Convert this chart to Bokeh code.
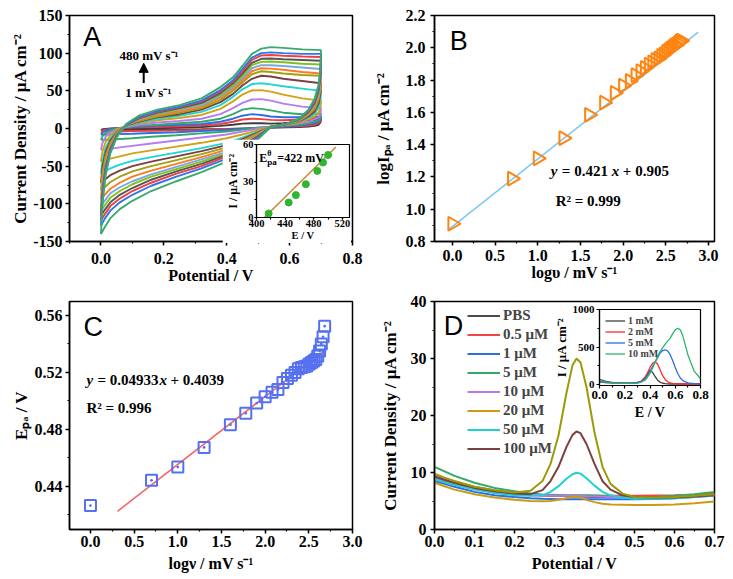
from bokeh.plotting import figure
from bokeh.models import (GridBox, Range1d, SingleIntervalTicker, FixedTicker, PrintfTickFormatter,
                          Label, Arrow, NormalHead, Legend, LegendItem)
from bokeh.embed import file_html
from bokeh.resources import INLINE

SERIF = "Liberation Serif"
SANS = "Liberation Sans"

# ---------------- Panel A : cyclic voltammograms ----------------
cv_E_fwd = [0.0, 0.005, 0.015, 0.03, 0.05, 0.08, 0.12, 0.18, 0.25, 0.32, 0.38, 0.42, 0.45, 0.48, 0.51, 0.54, 0.58, 0.64, 0.7]
cv_E_rev = [0.7, 0.698, 0.692, 0.68, 0.66, 0.63, 0.59, 0.54, 0.5, 0.45, 0.4, 0.32, 0.24, 0.16, 0.1, 0.06, 0.03, 0.012, 0.0]
cv_fwd = [
    [-2, -1, -0.5, 0, 0.3, 0.5, 0.7, 1, 1.5, 2, 3.5, 5, 6.5, 7, 7, 6.5, 7, 9, 12],
    [-4, -2.5, -1.5, -0.5, 0.5, 1, 1.5, 2, 3, 4, 6, 9, 12, 13, 12.5, 11.5, 11, 12, 14],
    [-8, -5, -3, -1, 0.5, 1.5, 2.5, 3.5, 5, 6, 9, 13, 17, 19, 18, 16, 15, 15, 16],
    [-15, -10, -6, -2.5, 0, 2, 3.5, 5, 7, 9, 13, 19, 25, 27, 26, 24, 21, 19, 20],
    [-28, -19, -11, -5, -1, 2, 5, 8, 10, 13, 19, 27, 34, 38.5, 39, 37, 33, 29, 27],
    [-44, -30, -18, -9, -2, 3, 7, 11, 14, 18, 26, 36, 45, 50.5, 51, 49, 45, 40, 37],
    [-60, -42, -26, -13, -4, 3, 8, 13, 17, 22, 31, 42, 52, 59, 60, 58.5, 56, 53, 50],
    [-72, -50, -31, -16, -5, 3.5, 9, 15, 19, 25, 35, 46, 57, 66, 70, 69, 66, 63, 60],
    [-82, -58, -36, -19, -6, 4, 10, 16, 21, 27, 38, 50, 61, 72, 76, 75, 73, 71, 70],
    [-94, -67, -41, -22, -7, 4, 11, 18, 23, 29, 41, 53, 64, 76, 80, 79.5, 78, 75, 73],
    [-103, -74, -45, -24, -8, 4, 12, 19, 25, 31, 43, 55, 67, 80, 84, 84, 83, 81, 79],
    [-109, -78, -48, -25, -9, 4, 13, 20, 26, 33, 45, 57, 70, 84, 88.5, 89, 88, 86, 85],
    [-116, -83, -51, -27, -9, 4.5, 13.5, 21, 27, 34, 47, 60, 73, 87, 92.5, 93, 92, 91, 90],
    [-122, -87, -54, -28, -10, 5, 14, 22, 28, 36, 49, 62, 76, 91, 97, 97.5, 96.5, 95.5, 95],
    [-129, -92, -57, -30, -11, 5, 15, 23, 29, 37, 51, 64, 79, 94, 100, 101, 100, 99, 99],
    [-140, -100, -62, -33, -12, 6, 17, 25, 31, 40, 55, 68, 83, 99, 106, 108, 107, 105, 104],
]
cv_rev = [
    [12, 8, 5, 3.5, 2.5, 2, 1.5, 1, 0.5, 0, -0.5, -1, -1.2, -1.5, -1.7, -1.8, -2, -2, -2],
    [14, 10, 7, 5, 4, 3, 2.5, 1.5, 0.5, -0.5, -1, -2, -2.5, -3, -3.5, -4, -4, -4, -4],
    [16, 12, 9, 7, 5.5, 4, 3, 2, 1, -0.5, -2, -3.5, -5, -6, -7, -7.5, -8, -8, -8],
    [20, 15, 11, 9, 7, 5, 4, 2.5, 1, -1.5, -4, -6.5, -9, -11, -13, -14, -15, -15, -15],
    [27, 20, 15, 12, 9, 7, 4.5, 2.5, 0, -4, -8, -12, -16, -20, -23, -25, -27, -28, -28],
    [37, 28, 21, 16, 12, 8, 5, 2.5, -2, -8, -13, -19, -24, -29, -33, -37, -40, -42, -44],
    [50, 38, 28, 20, 14, 9, 5.5, 2.5, -4, -12, -19, -26, -32, -38, -43, -48, -53, -57, -60],
    [60, 46, 33, 23, 16, 9.5, 5.5, 2.5, -5, -14, -22, -30, -37, -44, -50, -56, -62, -68, -72],
    [70, 53, 38, 26, 18, 10, 6, 2.5, -6, -16, -25, -34, -42, -50, -57, -64, -71, -78, -82],
    [73, 56, 41, 28, 19, 10.5, 6, 2.5, -7, -18, -28, -38, -47, -56, -64, -72, -80, -88, -94],
    [79, 61, 44, 30, 20, 11, 6, 2.5, -8, -20, -31, -41, -51, -61, -70, -78, -86, -96, -103],
    [85, 65, 47, 32, 21, 11, 6, 2, -9, -21, -33, -44, -54, -64, -74, -83, -92, -102, -109],
    [90, 69, 50, 34, 22, 12, 6, 2, -10, -23, -35, -47, -57, -68, -79, -88, -98, -108, -116],
    [95, 73, 53, 36, 23, 12, 6, 2, -11, -25, -37, -50, -60, -72, -83, -93, -103, -114, -122],
    [99, 76, 55, 38, 24, 12.5, 6, 2, -12, -27, -40, -53, -64, -76, -88, -98, -109, -120, -129],
    [104, 80, 58, 40, 25, 13, 6, 2, -14, -30, -44, -58, -70, -83, -96, -107, -119, -131, -140],
]
cv_colors = ["#3d3d3d", "#f03c3c", "#2a6fe6", "#35a86a", "#b77cf0", "#d4a111", "#1fd4d4", "#7b4040",
             "#a0a012", "#ff7a1a", "#78a6e6", "#7fc21a", "#565656", "#ee4040", "#2f75ea", "#3aaa6e"]

# inset A : peak current vs peak potential
insA_E = [417, 445, 455, 469, 485, 493, 500]
insA_I = [3.3, 12.3, 18.4, 27.4, 38.3, 45.2, 51.4]
insA_fitE = [411, 511]
insA_fitI = [0, 58]

# ---------------- Panel B ----------------
b_logv = [0, 0.699, 1.0, 1.301, 1.602, 1.778, 1.903, 2.0, 2.079, 2.146, 2.204, 2.255, 2.301, 2.342,
          2.380, 2.415, 2.447, 2.477, 2.505, 2.531, 2.556, 2.580, 2.602, 2.623, 2.643, 2.663, 2.681]
b_logI = [0.91, 1.19, 1.315, 1.44, 1.585, 1.66, 1.72, 1.765, 1.795, 1.83, 1.855, 1.875, 1.895, 1.91,
          1.925, 1.935, 1.95, 1.96, 1.975, 1.985, 1.995, 2.005, 2.015, 2.02, 2.03, 2.04, 2.045]
b_fit_x = [-0.05, 2.88]
b_fit_y = [0.872, 2.097]

# ---------------- Panel C ----------------
c_logv = b_logv
c_Epa = [0.4265, 0.4442, 0.4535, 0.4673, 0.4833, 0.4913, 0.4985, 0.5029, 0.506, 0.508, 0.513, 0.5158,
         0.518, 0.520, 0.5225, 0.5235, 0.524, 0.5245, 0.526, 0.527, 0.528, 0.529, 0.5315, 0.535,
         0.540, 0.545, 0.5525]
c_fit_x = [0.31, 2.68]
c_fit_y = [0.4225, 0.5355]

# ---------------- Panel D : DPV ----------------
d_E = [0.0, 0.025, 0.05, 0.1, 0.15, 0.2, 0.24, 0.27, 0.29, 0.31, 0.33, 0.345, 0.355, 0.365, 0.38, 0.4,
       0.42, 0.44, 0.47, 0.5, 0.55, 0.6, 0.65, 0.7]
d_xticks = [0.0, 0.1, 0.2, 0.3, 0.4, 0.5, 0.6, 0.7]
d_xminor = [0.05, 0.15, 0.25, 0.35, 0.45, 0.55, 0.65]
d_labels = ["PBS", "0.5 μM", "1 μM", "5 μM", "10 μM", "20 μM", "50 μM", "100 μM"]
d_colors = ["#4d4d4d", "#f24545", "#2b6fe0", "#34a868", "#b57ae8", "#cc9a14", "#1fd1d1", "#7d3f3f"]
d_I = [
    [9.3, 8.7, 8.2, 7.4, 6.8, 6.4, 6.1, 6.0, 5.95, 5.9, 5.85, 5.8, 5.8, 5.8, 5.75, 5.7, 5.7, 5.7, 5.7, 5.7, 5.75, 5.85, 6.0, 6.2],
    [9.0, 8.5, 8.0, 7.2, 6.6, 6.2, 6.0, 5.95, 5.9, 5.9, 5.9, 5.9, 5.9, 5.9, 5.9, 5.9, 5.9, 5.9, 5.9, 5.9, 5.95, 6.0, 6.1, 6.3],
    [8.5, 8.0, 7.5, 6.6, 6.0, 5.7, 5.5, 5.4, 5.35, 5.3, 5.3, 5.3, 5.3, 5.3, 5.3, 5.3, 5.3, 5.3, 5.3, 5.3, 5.35, 5.5, 5.7, 6.0],
    [11.0, 10.2, 9.4, 8.2, 7.3, 6.7, 6.3, 6.15, 6.1, 6.05, 6.0, 6.0, 6.0, 6.0, 6.0, 5.95, 5.9, 5.8, 5.7, 5.6, 5.7, 5.9, 6.2, 6.6],
    [9.6, 9.0, 8.4, 7.5, 6.9, 6.4, 6.1, 6.0, 5.95, 5.9, 5.9, 5.9, 5.9, 5.9, 5.85, 5.8, 5.75, 5.7, 5.65, 5.6, 5.6, 5.7, 5.8, 6.0],
    [8.2, 7.6, 7.0, 6.2, 5.6, 5.2, 5.0, 4.95, 5.0, 5.2, 5.5, 5.7, 5.75, 5.6, 5.2, 4.8, 4.5, 4.4, 4.35, 4.3, 4.3, 4.4, 4.6, 4.9],
    [8.9, 8.3, 7.8, 7.0, 6.4, 6.0, 5.9, 6.0, 6.6, 7.6, 8.9, 9.7, 9.95, 9.8, 9.0, 7.7, 6.6, 6.0, 5.6, 5.4, 5.4, 5.5, 5.7, 5.9],
    [9.3, 8.7, 8.2, 7.3, 6.7, 6.3, 6.2, 6.9, 8.5, 11.0, 14.5, 16.6, 17.2, 16.9, 15.0, 11.5, 8.5, 7.0, 6.0, 5.7, 5.6, 5.6, 5.8, 6.0],
]
d_top_color = "#9b9b06"
d_top_I = [9.8, 9.1, 8.5, 7.5, 6.9, 6.5, 6.8, 8.5, 11.5, 16.5, 24.0, 28.8, 30.0, 29.3, 25.0, 17.0, 11.0, 8.0, 6.3, 5.7, 5.6, 5.7, 5.9, 6.2]

# inset D
insD_E = [0.0, 0.05, 0.1, 0.15, 0.2, 0.25, 0.3, 0.33, 0.36, 0.38, 0.4, 0.42, 0.44, 0.46, 0.48, 0.5,
          0.52, 0.54, 0.56, 0.58, 0.6, 0.62, 0.64, 0.66, 0.7, 0.75, 0.8]
insD_xticks = [0.0, 0.2, 0.4, 0.6, 0.8]
insD_xminor = [0.1, 0.3, 0.5, 0.7]
insD_labels = ["1 mM", "2 mM", "5 mM", "10 mM"]
insD_colors = ["#404040", "#ff2a2a", "#2a6ee6", "#2db36b"]
insD_I = [
    [70, 45, 30, 25, 22, 22, 25, 40, 80, 140, 190, 165, 110, 60, 35, 20, 15, 12, 10, 10, 10, 10, 10, 10, 10, 10, 10],
    [40, 30, 25, 22, 20, 22, 30, 50, 100, 160, 230, 285, 305, 275, 200, 120, 70, 40, 25, 18, 15, 12, 10, 10, 10, 10, 10],
    [40, 30, 25, 22, 20, 22, 30, 45, 80, 120, 180, 240, 300, 360, 420, 455, 465, 450, 400, 320, 230, 150, 90, 55, 25, 15, 12],
    [60, 35, 25, 20, 18, 18, 22, 35, 60, 100, 150, 220, 300, 380, 440, 490, 540, 580, 620, 680, 730, 750, 730, 650, 400, 180, 80],
]


# ---------------- helpers ----------------
def make_fig(xr, yr, fw, fh, bl, br, bt, bb, border_alpha=1.0):
    p = figure(x_range=Range1d(start=xr[0], end=xr[1]), y_range=Range1d(start=yr[0], end=yr[1]),
               width=fw + bl + br, height=fh + bt + bb,
               min_border_left=bl, min_border_right=br, min_border_top=bt, min_border_bottom=bb,
               output_backend="svg", toolbar_location=None)
    p.grid.visible = False
    p.outline_line_color = "black"
    p.outline_line_width = 1.5
    p.outline_line_alpha = 1.0
    p.background_fill_color = "white"
    p.border_fill_color = "white"
    p.border_fill_alpha = border_alpha
    return p


def style_axis(ax, ticker, fmt, label, tick_size, label_size, tick_standoff, label_standoff,
               tick_out=4, minor_out=2, lw=1.5):
    if isinstance(ticker, (int, float)):
        ticker = SingleIntervalTicker(interval=ticker, num_minor_ticks=2)
    ax.ticker = ticker
    ax.formatter = PrintfTickFormatter(format=fmt)
    ax.axis_label = label
    ax.axis_line_width = lw
    ax.axis_line_color = "black"
    ax.major_tick_line_width = lw
    ax.minor_tick_line_width = 1.2
    ax.major_tick_in = 0
    ax.major_tick_out = tick_out
    ax.minor_tick_in = 0
    ax.minor_tick_out = minor_out
    ax.major_label_text_font = SERIF
    ax.major_label_text_font_style = "bold"
    ax.major_label_text_font_size = tick_size
    ax.major_label_text_color = "black"
    ax.major_label_standoff = tick_standoff
    ax.axis_label_text_font = SERIF
    ax.axis_label_text_font_style = "bold"
    ax.axis_label_text_font_size = label_size
    ax.axis_label_text_color = "black"
    ax.axis_label_standoff = label_standoff


def add_text(p, x, y, text, size, style="bold", font=SERIF, align="left", xoff=0, yoff=0):
    p.add_layout(Label(x=x, y=y, text=text, text_font=font, text_font_size=size,
                       text_font_style=style, text_color="black", text_align=align,
                       text_baseline="middle", x_offset=xoff, y_offset=yoff))


# ---------------- Panel A ----------------
pA = make_fig((-0.1, 0.8), (-150, 150), 283, 228, 61, 14, 7, 48)
for ys_f, ys_r, col in zip(cv_fwd, cv_rev, cv_colors):
    pA.line(cv_E_fwd + cv_E_rev, ys_f + ys_r, line_color=col, line_width=1.9)
style_axis(pA.xaxis[0], 0.2, "%.1f", "Potential / V", "16px", "16px", 7, 0)
style_axis(pA.yaxis[0], 50, "%d", "Current Density / μA cm⁻²", "16px", "17px", 3, 0)
add_text(pA, -0.056, 121, "A", "27px", style="normal", font=SANS)
add_text(pA, 0.153, 96.5, "480 mV s⁻¹", "13px", align="center")
add_text(pA, 0.151, 47.2, "1 mV s⁻¹", "13px", align="center")
pA.add_layout(Arrow(end=NormalHead(size=9, fill_color="black", line_color="black"),
                    x_start=0.136, y_start=60.5, x_end=0.136, y_end=86.5,
                    line_width=2, line_color="black"))

# inset A
iA = make_fig((400, 530), (0, 60), 98, 73, 29, 2, 5, 26)
iA.line(insA_fitE, insA_fitI, line_color="#c48a32", line_width=1.5)
iA.scatter(insA_E, insA_I, marker="circle", size=7, fill_color="#2fb52f", line_color="#2fb52f")
style_axis(iA.xaxis[0], 40, "%d", "E / V", "10.5px", "10.5px", 0, 0, tick_out=2, minor_out=2, lw=1.2)
style_axis(iA.yaxis[0], 30, "%d", "I / μA cm⁻²", "10.5px", "12px", 1, 0, tick_out=2, minor_out=2, lw=1.2)
iA.outline_line_width = 1.2
add_text(iA, 404, 48.5, "E", "12px")
add_text(iA, 404, 48.5, "θ", "8px", xoff=8, yoff=5)
add_text(iA, 404, 48.5, "pa", "9px", xoff=8, yoff=-4)
add_text(iA, 404, 48.5, "=422 mV", "12px", xoff=18)

# ---------------- Panel B ----------------
pB = make_fig((-0.21, 3.07), (0.8, 2.2), 286, 228, 68, 5, 5, 50)
pB.line(b_fit_x, b_fit_y, line_color="#7fc8f0", line_width=1.6)
pB.scatter(b_logv, b_logI, marker="triangle", angle=-1.5708, size=14, fill_color=None,
           line_color="#ff8410", line_width=2)
style_axis(pB.xaxis[0], 0.5, "%.1f", "logυ / mV s⁻¹", "16px", "16px", 4, 0)
style_axis(pB.yaxis[0], 0.2, "%.1f", "logIₚₐ / μA cm⁻²", "16px", "17px", 5, 10)
add_text(pB, -0.03, 2.045, "B", "27px", style="normal", font=SANS)
add_text(pB, 1.153, 1.236, "y", "15px", style="bold italic")
add_text(pB, 1.153, 1.236, "= 0.421", "15px", xoff=11)
add_text(pB, 1.153, 1.236, "x", "15px", style="bold italic", xoff=61)
add_text(pB, 1.153, 1.236, "+ 0.905", "15px", xoff=72)
add_text(pB, 1.21, 1.052, "R² = 0.999", "15px")

# ---------------- Panel C ----------------
pC = make_fig((-0.24, 3.0), (0.4097, 0.5698), 283, 228, 61, 14, 10, 50)
pC.line(c_fit_x, c_fit_y, line_color="#f26b6b", line_width=1.6)
pC.scatter(c_logv, c_Epa, marker="square_dot", size=11, fill_color=None,
           line_color="#5570f0", line_width=2)
style_axis(pC.xaxis[0], 0.5, "%.1f", "logν / mV s⁻¹", "16px", "16px", 2, 5)
style_axis(pC.yaxis[0], 0.04, "%.2f", "Eₚₐ / V", "16px", "17px", 3, 1)
add_text(pC, -0.08, 0.5518, "C", "27px", style="normal", font=SANS)
add_text(pC, -0.046, 0.515, "y", "15px", style="bold italic")
add_text(pC, -0.046, 0.515, "= 0.04933", "15px", xoff=11)
add_text(pC, -0.046, 0.515, "x", "15px", style="bold italic", xoff=73)
add_text(pC, -0.046, 0.515, "+ 0.4039", "15px", xoff=84)
add_text(pC, -0.046, 0.4948, "R² = 0.996", "15px")

# ---------------- Panel D ----------------
pD = make_fig((0, 0.7), (0, 40), 282, 228, 66, 11, 10, 50)
d_renderers = []
for ys, col in zip(d_I, d_colors):
    d_renderers.append(pD.line(d_E, ys, line_color=col, line_width=2))
pD.line(d_E, d_top_I, line_color=d_top_color, line_width=2)
style_axis(pD.xaxis[0], FixedTicker(ticks=d_xticks, minor_ticks=d_xminor), "%.1f", "Potential / V",
           "16px", "16px", 2, 5)
style_axis(pD.yaxis[0], 10, "%d", "Current Density / μA cm⁻²", "16px", "17px", 4, 8)
add_text(pD, 0.023, 35.65, "D", "27px", style="normal", font=SANS)
legD = Legend(items=[LegendItem(label=lab, renderers=[r]) for lab, r in zip(d_labels, d_renderers)],
              location=(33, 72), orientation="vertical", padding=0, margin=0, spacing=2,
              label_height=17, glyph_height=17, glyph_width=33, label_standoff=3,
              label_text_font=SERIF, label_text_font_style="bold", label_text_font_size="15px",
              background_fill_alpha=0, border_line_alpha=0)
pD.add_layout(legD)

# inset D
iD = make_fig((0, 0.8), (-10, 1000), 106, 76, 44, 10, 6, 40, border_alpha=0.0)
insD_renderers = []
for ys, col in zip(insD_I, insD_colors):
    insD_renderers.append(iD.line(insD_E, ys, line_color=col, line_width=1.3))
style_axis(iD.xaxis[0], FixedTicker(ticks=insD_xticks, minor_ticks=insD_xminor), "%.1f", "E / V",
           "13px", "14px", 2, 3, tick_out=3, minor_out=2, lw=1.2)
style_axis(iD.yaxis[0], 500, "%d", "I / μA cm⁻²", "11px", "13px", 2, 1, tick_out=3, minor_out=2, lw=1.2)
iD.outline_line_width = 1.2
legI = Legend(items=[LegendItem(label=lab, renderers=[r]) for lab, r in zip(insD_labels, insD_renderers)],
              location=(6, 26), orientation="vertical", padding=0, margin=0, spacing=0,
              label_height=11, glyph_height=11, glyph_width=20, label_standoff=3,
              label_text_font=SERIF, label_text_font_style="bold", label_text_font_size="10px",
              background_fill_alpha=0, border_line_alpha=0)
iD.add_layout(legI)

# ---------------- layout (first row / column are 8px spacers) ----------------
grid = GridBox(
    children=[(pA, 1, 1, 3, 3), (pB, 1, 4, 3, 3), (pC, 4, 1, 3, 3), (pD, 4, 4, 3, 3),
              (iA, 2, 2, 1, 1), (iD, 5, 5, 1, 1)],
    cols=["8px", "214px", "129px", "15px", "184px", "160px", "15px"],
    rows=["8px", "131px", "104px", "48px", "12px", "122px", "154px"],
    spacing=0,
)

open("out.html", "w").write(file_html(grid, INLINE))
